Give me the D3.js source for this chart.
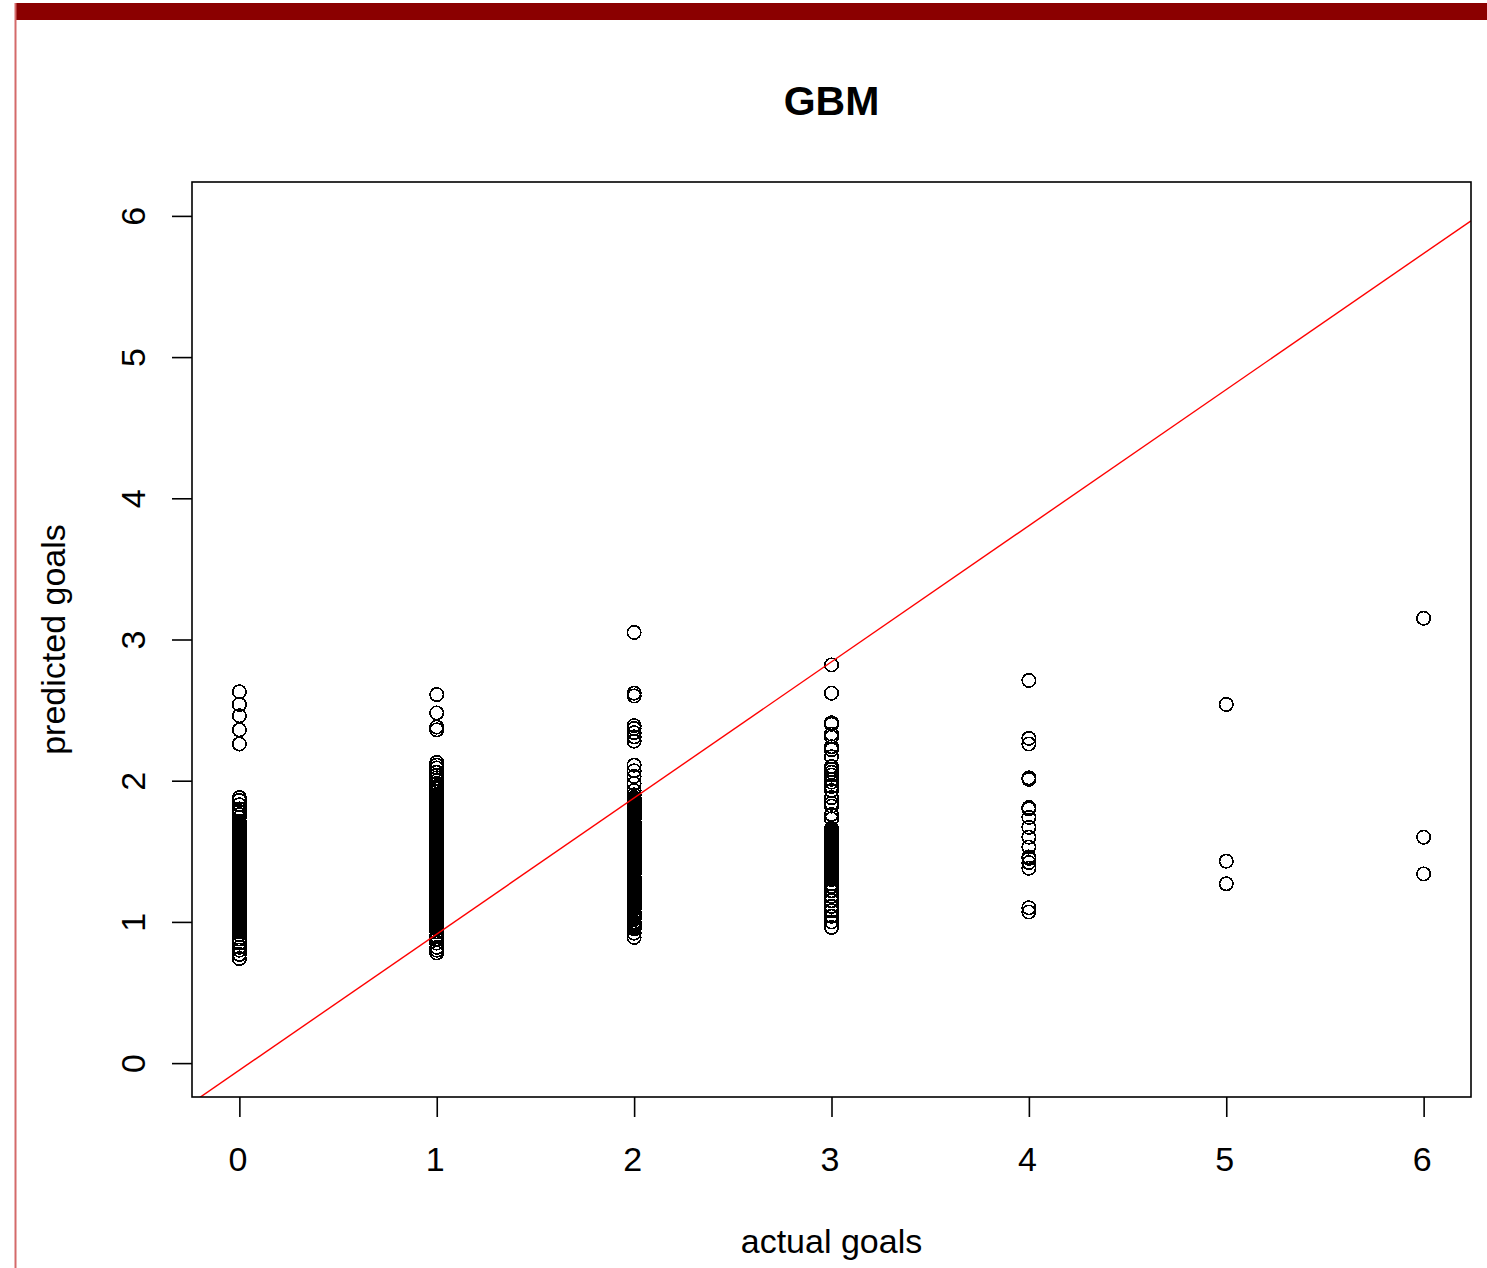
<!DOCTYPE html>
<html>
<head>
<meta charset="utf-8">
<script src="https://cdn.jsdelivr.net/npm/d3@7"></script>
<style>
    body { margin: 0; background: #fff; }
    svg { display: block; }
    text { font-family: "Liberation Sans", Arial, sans-serif; fill: #000; }
</style>
</head>
<body>
<div class="chart_frame"></div>
<script>
// actual goals categories and the predicted values plotted at each one
var actual = [0, 1, 2, 3, 4, 5, 6];

var pred0 = [2.63, 2.54, 2.46, 2.36, 2.26,
    1.88, 1.86, 1.83, 1.80, 1.78, 1.76, 1.74, 1.71,
    1.70, 1.69, 1.68, 1.67, 1.66, 1.65, 1.64, 1.63, 1.62, 1.61, 1.60, 1.59, 1.58, 1.57, 1.56, 1.55,
    1.54, 1.53, 1.52, 1.51, 1.50, 1.49, 1.48, 1.47, 1.46, 1.45, 1.44, 1.43, 1.42, 1.41, 1.40,
    1.39, 1.38, 1.37, 1.36, 1.35, 1.34, 1.33, 1.32, 1.31, 1.30, 1.29, 1.28, 1.27, 1.26, 1.25,
    1.24, 1.23, 1.22, 1.21, 1.20, 1.19, 1.18, 1.17, 1.16, 1.15, 1.14, 1.13, 1.12, 1.11, 1.10,
    1.09, 1.08, 1.07, 1.06, 1.05, 1.04, 1.03, 1.02, 1.01, 1.00, 0.99, 0.98, 0.97, 0.96, 0.95, 0.94,
    0.93, 0.91, 0.88, 0.85, 0.82, 0.80, 0.77, 0.74];

var pred1 = [2.61, 2.48, 2.38, 2.36,
    2.13, 2.11, 2.09, 2.06, 2.04, 2.02, 2.00, 1.98, 1.96, 1.94, 1.92,
    1.90, 1.89, 1.88, 1.87, 1.86, 1.85, 1.84, 1.83, 1.82, 1.81, 1.80, 1.79, 1.78, 1.77, 1.76,
    1.75, 1.74, 1.73, 1.72, 1.71, 1.70, 1.69, 1.68, 1.67, 1.66, 1.65, 1.64, 1.63, 1.62, 1.61,
    1.60, 1.59, 1.58, 1.57, 1.56, 1.55, 1.54, 1.53, 1.52, 1.51, 1.50, 1.49, 1.48, 1.47, 1.46,
    1.45, 1.44, 1.43, 1.42, 1.41, 1.40, 1.39, 1.38, 1.37, 1.36, 1.35, 1.34, 1.33, 1.32, 1.31,
    1.30, 1.29, 1.28, 1.27, 1.26, 1.25, 1.24, 1.23, 1.22, 1.21, 1.20, 1.19, 1.18, 1.17, 1.16,
    1.15, 1.14, 1.13, 1.12, 1.11, 1.10, 1.09, 1.08, 1.07, 1.06, 1.05, 1.04, 1.03, 1.02, 1.01,
    1.00, 0.99, 0.98, 0.97, 0.96, 0.95, 0.93, 0.90, 0.88, 0.85, 0.82, 0.80, 0.78];

var pred2 = [3.05, 2.62, 2.60, 2.39, 2.37, 2.34, 2.31, 2.28,
    2.11, 2.07, 2.03, 1.98, 1.93, 1.90,
    1.88, 1.87, 1.86, 1.85, 1.84, 1.83, 1.82, 1.81, 1.80, 1.79, 1.78, 1.77, 1.76, 1.75, 1.74,
    1.73, 1.71, 1.70, 1.69, 1.68, 1.67, 1.66, 1.65, 1.64, 1.63, 1.62, 1.61, 1.60, 1.59, 1.58,
    1.57, 1.56, 1.55, 1.54, 1.53, 1.52, 1.51, 1.50, 1.49, 1.48, 1.47, 1.46, 1.45, 1.44, 1.43,
    1.42, 1.41, 1.40, 1.39, 1.38, 1.37, 1.36, 1.35, 1.34, 1.32, 1.31, 1.30, 1.29, 1.28, 1.27,
    1.26, 1.25, 1.24, 1.23, 1.22, 1.21, 1.20, 1.19, 1.18, 1.17, 1.16, 1.15, 1.14, 1.13, 1.12,
    1.11, 1.10, 1.09, 1.07, 1.06, 1.05, 1.04, 1.03, 1.02, 1.00, 0.99, 0.98, 0.97, 0.96, 0.95,
    0.92, 0.89];

var pred3 = [2.82, 2.62, 2.41, 2.40, 2.33, 2.31, 2.24, 2.22, 2.17, 2.10, 2.08, 2.06, 2.04,
    2.01, 1.99, 1.96, 1.93, 1.88, 1.84, 1.82, 1.76, 1.73,
    1.66, 1.65, 1.64, 1.63, 1.62, 1.61, 1.60, 1.59, 1.58, 1.57, 1.56, 1.55, 1.54, 1.53, 1.52,
    1.51, 1.50, 1.49, 1.48, 1.47, 1.46, 1.45, 1.44, 1.43, 1.42, 1.41, 1.40, 1.39, 1.38, 1.37,
    1.36, 1.35, 1.34, 1.33, 1.32, 1.31, 1.30,
    1.27, 1.25, 1.22, 1.18, 1.15, 1.11, 1.08, 1.04, 1.00, 0.96];

var pred4 = [2.71, 2.30, 2.26, 2.02, 2.01, 1.81, 1.80, 1.74, 1.67, 1.60, 1.53, 1.46, 1.45,
    1.42, 1.38, 1.10, 1.07];

var pred5 = [2.54, 1.43, 1.27];

var pred6 = [3.15, 1.60, 1.34];

var preds = [pred0, pred1, pred2, pred3, pred4, pred5, pred6];

// fitted line drawn over the points
var fitIntercept = -0.05,
    fitSlope = 0.964;

var xTicks = [0, 1, 2, 3, 4, 5, 6],
    yTicks = [0, 1, 2, 3, 4, 5, 6];

var svg_width = 1487,
    svg_height = 1268;

var plot = {'left': 192, 'right': 1471, 'top': 182, 'bottom': 1097};

var svg = d3.select('.chart_frame').append('svg')
    .attr('width', svg_width)
    .attr('height', svg_height);

// window frame: dark red top strip and thin left border
svg.append('rect')
    .attr('x', 15).attr('y', 3)
    .attr('width', svg_width - 15).attr('height', 17)
    .attr('fill', '#8b0000');
svg.append('line')
    .attr('x1', 15.5).attr('x2', 15.5)
    .attr('y1', 3).attr('y2', svg_height)
    .attr('stroke', '#d46a6a')
    .attr('stroke-width', 2);

var x = d3.scaleLinear().domain([-0.24, 6.24]).range([plot.left, plot.right]);
var y = d3.scaleLinear().domain([-0.24, 6.24]).range([plot.bottom, plot.top]);

var chart = svg.append('g').attr('class', 'chart');

// points
var points = [];
preds.forEach(function(vals, i) {
    vals.forEach(function(v) { points.push({'x': actual[i], 'y': v}); });
});

chart.append('g').attr('class', 'points')
    .selectAll('circle')
    .data(points)
    .enter().append('circle')
    .attr('cx', function(d) { return x(d.x); })
    .attr('cy', function(d) { return y(d.y); })
    .attr('r', 6.7)
    .attr('fill', 'none')
    .attr('stroke', '#000')
    .attr('stroke-width', 1.7)
    .attr('shape-rendering', 'crispEdges');

// fit line, clipped to the plot box
svg.append('clipPath').attr('id', 'plotclip')
    .append('rect')
    .attr('x', plot.left).attr('y', plot.top)
    .attr('width', plot.right - plot.left)
    .attr('height', plot.bottom - plot.top);

var line_x = x.domain();
chart.append('line')
    .attr('clip-path', 'url(#plotclip)')
    .attr('x1', x(line_x[0])).attr('y1', y(fitIntercept + fitSlope * line_x[0]))
    .attr('x2', x(line_x[1])).attr('y2', y(fitIntercept + fitSlope * line_x[1]))
    .attr('stroke', '#ff0000')
    .attr('stroke-width', 1.4);

// box
chart.append('rect')
    .attr('x', plot.left).attr('y', plot.top)
    .attr('width', plot.right - plot.left)
    .attr('height', plot.bottom - plot.top)
    .attr('fill', 'none')
    .attr('stroke', '#000')
    .attr('stroke-width', 1.6);

// axes
var xAxis = chart.append('g')
    .attr('transform', 'translate(0,' + plot.bottom + ')')
    .call(d3.axisBottom(x).tickValues(xTicks).tickSize(20).tickPadding(30).tickFormat(d3.format('d')));

var yAxis = chart.append('g')
    .attr('transform', 'translate(' + plot.left + ',0)')
    .call(d3.axisLeft(y).tickValues(yTicks).tickSize(20).tickFormat(d3.format('d')));

[xAxis, yAxis].forEach(function(a) {
    a.select('.domain').remove();
    a.selectAll('.tick line').attr('stroke', '#000').attr('stroke-width', 1.6);
    a.selectAll('.tick text')
        .attr('font-family', '"Liberation Sans", Arial, sans-serif')
        .attr('font-size', 34)
        .attr('fill', '#000');
});

xAxis.selectAll('.tick text').attr('x', -2);

yAxis.selectAll('.tick text')
    .attr('x', 0).attr('dy', 0)
    .attr('text-anchor', 'middle')
    .attr('transform', 'translate(-47,0) rotate(-90)');

// title and labels
svg.append('text')
    .attr('x', (plot.left + plot.right) / 2).attr('y', 115)
    .attr('text-anchor', 'middle')
    .attr('font-size', 41)
    .attr('font-weight', 'bold')
    .text('GBM');

svg.append('text')
    .attr('x', (plot.left + plot.right) / 2).attr('y', 1253)
    .attr('text-anchor', 'middle')
    .attr('font-size', 34)
    .text('actual goals');

svg.append('text')
    .attr('transform', 'translate(65,' + (plot.top + plot.bottom) / 2 + ') rotate(-90)')
    .attr('text-anchor', 'middle')
    .attr('font-size', 34)
    .text('predicted goals');
</script>
</body>
</html>
